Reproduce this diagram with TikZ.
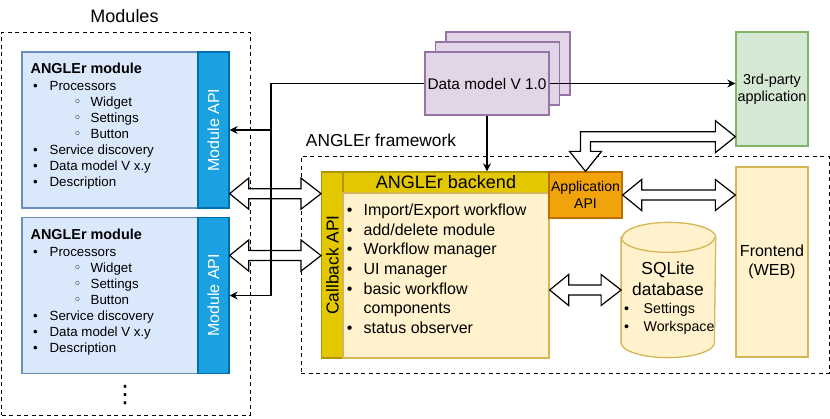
\documentclass[tikz,border=0pt]{standalone}
\usepackage{fontspec}
\setmainfont{Liberation Sans}
\newfontfamily\symfont{DejaVu Sans}
\usepackage{graphicx}
\usetikzlibrary{arrows.meta,calc}

\definecolor{modfill}{HTML}{DAE8FC}
\definecolor{modline}{HTML}{6C8EBF}
\definecolor{apifill}{HTML}{1BA1E2}
\definecolor{apiline}{HTML}{006EAF}
\definecolor{dmfill}{HTML}{E1D5E7}
\definecolor{dmline}{HTML}{9673A6}
\definecolor{tpfill}{HTML}{D5E8D4}
\definecolor{tpline}{HTML}{82B366}
\definecolor{yelfill}{HTML}{FFF2CC}
\definecolor{yelline}{HTML}{D6B656}
\definecolor{goldfill}{HTML}{E3C800}
\definecolor{goldline}{HTML}{B09500}
\definecolor{orfill}{HTML}{F0A30A}
\definecolor{orline}{HTML}{BD7000}

\newcommand{\fs}[2]{\fontsize{#1}{#2}\selectfont}
\newcommand{\bul}[2]{\hspace*{#1}\makebox[#2][l]{\textbullet}}
\newcommand{\cir}[2]{\hspace*{#1}\makebox[#2][l]{{\symfont ◦}}}
% double block arrow, left tip #1, right tip #2
\newcommand{\flexlr}[2]{\draw[flex] (#1) -- ++(19,-15.5) -- ++(0,10.5) -- ($(#2)+(-20,-5)$) -- ++(0,-10.5) -- (#2) -- ++(-20,15.5) -- ++(0,-10.5) -- ($(#1)+(19,5)$) -- ++(0,10.5) -- cycle;}

\begin{document}
\begin{tikzpicture}[x=1pt, y=-1pt, line width=1.3pt,
  group/.style={draw, dash pattern=on 4pt off 3.5pt, line width=1pt, inner sep=0pt},
  mod/.style={draw=modline, fill=modfill, inner sep=0pt, minimum width=176pt, minimum height=156pt},
  modapi/.style={draw=apiline, fill=apifill, text=white, inner sep=0pt, minimum width=31pt, minimum height=156pt, font=\fs{16}{19}},
  dmodel/.style={draw=dmline, fill=dmfill, inner sep=0pt, minimum width=124pt, minimum height=63pt, font=\fs{15.4}{18}},
  yel/.style={draw=yelline, fill=yelfill, inner sep=0pt},
  gold/.style={draw=goldline, fill=goldfill, inner sep=0pt},
  txt/.style={inner sep=0pt, align=left, anchor=north west},
  conn/.style={-{Stealth[length=8pt,width=8pt]}, line width=1.2pt},
  flex/.style={draw, fill=white, line width=1.2pt, line join=miter}]
  \useasboundingbox (0,0) rectangle (830,418);

  % groups
  \node[group, minimum width=248.5pt, minimum height=383pt] (modules) at (125.75,223.5) {};
  \node[anchor=base, font=\fs{18}{21}] (modlabel) at (124.5,22.7) {Modules};
  \node[group, minimum width=528pt, minimum height=217pt] (fw) at (565,264.5) {};
  \node[anchor=base west, font=\fs{17.3}{20}] (fwlabel) at (302,146) {ANGLEr framework};

  % modules
  \node[mod] (m1) at (110,130) {};
  \node[modapi] (mapi1) at (213.5,130) {\rotatebox{90}{Module API}};
  \node[txt, font=\fs{13.3}{16}] (mt1) at (30,62.5) {{\fs{14.4}{17}\bfseries ANGLEr module}\\[1.3pt]
    \bul{2.5pt}{16.5pt}Processors\\
    \cir{43pt}{17pt}Widget\\
    \cir{43pt}{17pt}Settings\\
    \cir{43pt}{17pt}Button\\
    \bul{2.5pt}{16.5pt}Service discovery\\
    \bul{2.5pt}{16.5pt}Data model V x.y\\
    \bul{2.5pt}{16.5pt}Description};
  \node[mod] (m2) at (110,295.5) {};
  \node[modapi] (mapi2) at (213.5,295.5) {\rotatebox{90}{Module API}};
  \node[txt, font=\fs{13.3}{16}] (mt2) at (30,228.5) {{\fs{14.4}{17}\bfseries ANGLEr module}\\[1.3pt]
    \bul{2.5pt}{16.5pt}Processors\\
    \cir{43pt}{17pt}Widget\\
    \cir{43pt}{17pt}Settings\\
    \cir{43pt}{17pt}Button\\
    \bul{2.5pt}{16.5pt}Service discovery\\
    \bul{2.5pt}{16.5pt}Data model V x.y\\
    \bul{2.5pt}{16.5pt}Description};
  \node[font=\symfont\fs{24}{24}, inner sep=0pt] (more) at (125,395) {⋮};

  % data model and 3rd-party application
  \node[dmodel] (dm3) at (508,63.5) {};
  \node[dmodel] (dm2) at (497.5,73.5) {};
  \node[dmodel] (dm) at (487,83.5) {Data model V 1.0};
  \node[draw=tpline, fill=tpfill, inner sep=0pt, minimum width=72pt, minimum height=114pt, align=center, font=\fs{14.4}{17.3}] (tp) at (772,89) {3rd-party\\application};

  % framework
  \node[gold, minimum width=21.3pt, minimum height=186pt, font=\fs{17.3}{20}] (cb) at (332.35,265) {\rotatebox{90}{Callback API}};
  \node[gold, minimum width=206pt, minimum height=21pt, font=\fs{18}{21}] (bh) at (446,182.5) {ANGLEr backend};
  \node[yel, minimum width=206pt, minimum height=165pt] (bb) at (446,275.5) {};
  \node[txt, font=\fs{16}{19.7}] (bt) at (346.2,203.2) {\bul{0pt}{16.8pt}Import/Export workflow\\
    \bul{0pt}{16.8pt}add/delete module\\
    \bul{0pt}{16.8pt}Workflow manager\\
    \bul{0pt}{16.8pt}UI manager\\
    \bul{0pt}{16.8pt}basic workflow\\
    \hspace*{16.8pt}components\\
    \bul{0pt}{16.8pt}status observer};
  \node[draw=orline, fill=orfill, inner sep=0pt, minimum width=73pt, minimum height=46pt, align=center, font=\fs{14.1}{17}] (app) at (585.5,195) {Application\\API};
  % database cylinder
  \node[inner sep=0pt, minimum width=93.3pt, minimum height=134pt] (db) at (668.4,290) {};
  \draw[draw=yelline, fill=yelfill] ($(db.north west)+(0,15)$) -- ($(db.south west)+(0,-15)$)
    arc[start angle=180, end angle=0, x radius=46.65, y radius=15] -- ($(db.north east)+(0,15)$)
    arc[start angle=0, end angle=-180, x radius=46.65, y radius=15] -- cycle;
  \draw[draw=yelline] ($(db.north west)+(0,15)$) arc[start angle=180, end angle=0, x radius=46.65, y radius=15];
  \node[font=\fs{17.4}{21}, align=center, inner sep=0pt] (dbname) at (668,278.3) {SQLite\\database};
  \node[txt, font=\fs{14.2}{17.7}] (dbitems) at (623.5,303) {\bul{0pt}{19.5pt}Settings\\ \bul{0pt}{19.5pt}Workspace};
  \node[yel, minimum width=72pt, minimum height=190pt, align=center, font=\fs{16}{19}] (fe) at (772,262) {Frontend\\(WEB)};

  % block arrows
  \coordinate (f1) at ($(mapi1.south east)+(0,-15)$);
  \coordinate (f2) at ($(mapi2.north east)+(0,38.7)$);
  \flexlr{f1}{cb.west |- f1}
  \flexlr{f2}{cb.west |- f2}
  \flexlr{bb.east |- db.center}{db.west}
  \flexlr{app.east}{fe.west |- app.east}
  \coordinate (ta) at (app.north);
  \coordinate (tb) at ($(tp.south west)+(0,-10)$);
  \draw[flex] (ta) -- ++(-16,-20) -- ++(11,0) -- ($(ta |- tb)+(-5,-5)$) -- ($(tb)+(-20,-5)$) -- ++(0,-11) -- (tb) -- ++(-20,16) -- ++(0,-11) -- ($(ta |- tb)+(5,5)$) -- ($(ta)+(5,-20)$) -- ++(11,0) -- cycle;

  % connectors
  \coordinate (j1) at (271,130);
  \draw[conn] (dm.west) -| (j1) -- (mapi1.east);
  \draw[conn] (j1) |- (mapi2.east);
  \draw[conn] (dm.east) -- (tp.west |- dm.east);
  \draw[conn] (dm.south) -- (dm.south |- bh.north);
\end{tikzpicture}
\end{document}
